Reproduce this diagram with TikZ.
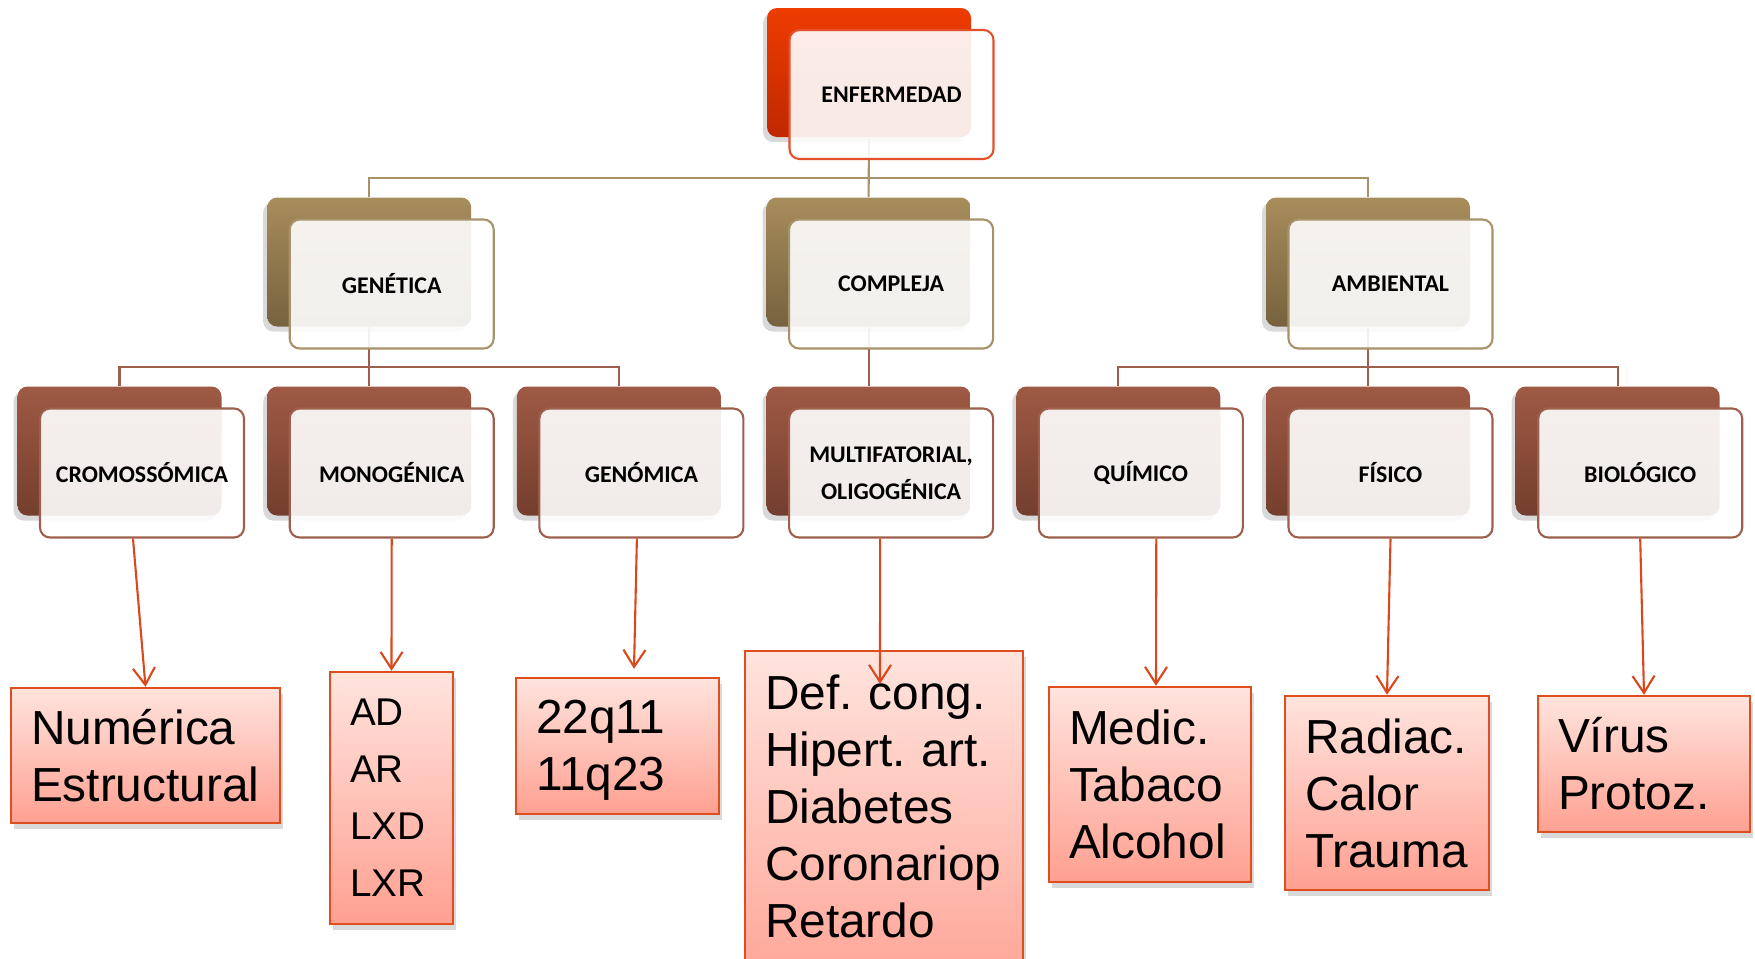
\documentclass[tikz,border=0pt]{standalone}
\usepackage{fontspec}
\usepackage{tikz}
\usetikzlibrary{shadows,backgrounds,arrows.meta}
\newfontfamily\boxfont{Liberation Sans}
\newfontfamily\labelfont{Carlito}
\definecolor{redtop}{RGB}{238,60,0}
\definecolor{redbot}{RGB}{192,40,0}
\definecolor{redline}{RGB}{228,80,42}
\definecolor{tantop}{RGB}{168,141,92}
\definecolor{tanbot}{RGB}{118,98,62}
\definecolor{tanline}{RGB}{168,146,106}
\definecolor{browntop}{RGB}{158,90,68}
\definecolor{brownbot}{RGB}{116,62,46}
\definecolor{brownline}{RGB}{158,96,76}
\definecolor{leaftop}{RGB}{255,228,222}
\definecolor{leafbot}{RGB}{255,160,145}
\definecolor{leafline}{RGB}{222,78,30}
\definecolor{arrowred}{RGB}{218,72,28}

\begin{document}
\begin{tikzpicture}[>={Straight Barb[length=1.7mm,width=2.2mm]},
	back/.style={rounded corners=1mm, minimum width=2.04cm, minimum height=1.29cm, inner sep=0pt,
		drop shadow={shadow xshift=-0.4mm, shadow yshift=-0.5mm, opacity=0.3}},
	front/.style={rounded corners=1mm, minimum width=2.04cm, minimum height=1.29cm, inner sep=0pt,
		fill=white, fill opacity=0.9, text opacity=1, line width=0.6pt, align=center,
		font=\labelfont\bfseries\fontsize{6.8}{10.5}\selectfont},
	leaf/.style={draw=leafline, line width=0.7pt, top color=leaftop, bottom color=leafbot,
		align=left, inner xsep=0.2cm, inner ysep=0pt, font=\boxfont\frenchspacing\fontsize{13.6}{16.2}\selectfont,
		drop shadow={shadow xshift=0.3mm, shadow yshift=-0.6mm, opacity=0.3}},
	tree1/.style={draw=tanline, line width=0.6pt},
	tree2/.style={draw=brownline, line width=0.6pt},
	arr/.style={->, draw=arrowred, line width=0.6pt}]
	\useasboundingbox (0,0) rectangle (17.55,-9.58);
	\coordinate (bar1) at (0,-1.78);
	\coordinate (bar2) at (0,-3.67);

	\node[back, top color=redtop, bottom color=redbot] (e) at (8.69,-0.725) {};
	\node[front, draw=redline] (ef) at ([shift={(0.225,-0.22)}]e.center) {ENFERMEDAD};

	\node[back, top color=tantop, bottom color=tanbot] (g) at (3.692,-2.62) {};
	\node[front, draw=tanline] (gf) at ([shift={(0.225,-0.22)}]g.center) {GENÉTICA};
	\node[back, top color=tantop, bottom color=tanbot] (c) at (8.686,-2.62) {};
	\node[front, draw=tanline] (cf) at ([shift={(0.225,-0.22)}]c.center) {COMPLEJA};
	\node[back, top color=tantop, bottom color=tanbot] (a) at (13.68,-2.62) {};
	\node[front, draw=tanline] (af) at ([shift={(0.225,-0.22)}]a.center) {AMBIENTAL};

	\node[back, top color=browntop, bottom color=brownbot] (cr) at (1.195,-4.51) {};
	\node[front, draw=brownline] (crf) at ([shift={(0.225,-0.22)}]cr.center) {CROMOSSÓMICA};
	\node[back, top color=browntop, bottom color=brownbot] (mo) at (3.692,-4.51) {};
	\node[front, draw=brownline] (mof) at ([shift={(0.225,-0.22)}]mo.center) {MONOGÉNICA};
	\node[back, top color=browntop, bottom color=brownbot] (gn) at (6.189,-4.51) {};
	\node[front, draw=brownline] (gnf) at ([shift={(0.225,-0.22)}]gn.center) {GENÓMICA};
	\node[back, top color=browntop, bottom color=brownbot] (mu) at (8.686,-4.51) {};
	\node[front, draw=brownline] (muf) at ([shift={(0.225,-0.22)}]mu.center) {MULTIFATORIAL,\\OLIGOGÉNICA};
	\node[back, top color=browntop, bottom color=brownbot] (qu) at (11.183,-4.51) {};
	\node[front, draw=brownline] (quf) at ([shift={(0.225,-0.22)}]qu.center) {QUÍMICO};
	\node[back, top color=browntop, bottom color=brownbot] (fi) at (13.68,-4.51) {};
	\node[front, draw=brownline] (fif) at ([shift={(0.225,-0.22)}]fi.center) {FÍSICO};
	\node[back, top color=browntop, bottom color=brownbot] (bi) at (16.177,-4.51) {};
	\node[front, draw=brownline] (bif) at ([shift={(0.225,-0.22)}]bi.center) {BIOLÓGICO};

	\begin{scope}[on background layer]
		\draw[tree1] (e.south) -- (e.south |- bar1) -| (g.north);
		\draw[tree1] (e.south |- bar1) -| (a.north);
		\draw[tree1] (e.south) -- (c.north);
		\draw[tree2] (g.south) -- (g.south |- bar2) -| (cr.north);
		\draw[tree2] (g.south |- bar2) -| (gn.north);
		\draw[tree2] (g.south) -- (mo.north);
		\draw[tree2] (c.south) -- (mu.north);
		\draw[tree2] (a.south) -- (a.south |- bar2) -| (qu.north);
		\draw[tree2] (a.south |- bar2) -| (bi.north);
		\draw[tree2] (a.south) -- (fi.north);
	\end{scope}

	\node[leaf, text width=2.29cm, minimum height=1.35cm] (num) at (1.455,-7.555) {Numérica\\Estructural};
	\node[leaf, text width=0.83cm, minimum height=2.52cm, font=\boxfont\fontsize{11}{16.2}\selectfont] (ad) at (3.915,-7.98) {AD\\AR\\LXD\\LXR};
	\node[leaf, text width=1.63cm, minimum height=1.36cm] (q) at (6.175,-7.46) {\rule{0pt}{0.42cm}22q11\\11q23};
	\node[leaf, text width=2.38cm, minimum height=3.59cm] (mf) at (8.84,-8.305) {Def. cong.\\Hipert. art.\\Diabetes\\Coronariop\\Retardo\rule[-0.48cm]{0pt}{0pt}};
	\node[leaf, text width=1.62cm, minimum height=1.95cm] (med) at (11.50,-7.845) {Medic.\\Tabaco\\Alcohol};
	\node[leaf, text width=1.64cm, minimum height=1.94cm] (rad) at (13.87,-7.93) {Radiac.\\Calor\\Trauma};
	\node[leaf, text width=1.72cm, minimum height=1.36cm] (vir) at (16.44,-7.64) {Vírus\\Protoz.};

	\draw[arr] ([xshift=-0.9mm]crf.south) -- (num.north);
	\draw[arr] (mof.south) -- (ad.north);
	\draw[arr] ([xshift=-0.45mm]gnf.south) -- ([shift={(1.65mm,0.8mm)}]q.north);
	\draw[arr] ([xshift=-1.1mm]muf.south) -- ([shift={(-0.4mm,-3.4mm)}]mf.north);
	\draw[arr] ([xshift=1.55mm]quf.south) -- ([xshift=0.6mm]med.north);
	\draw[arr] (fif.south) -- (rad.north);
	\draw[arr] (bif.south) -- (vir.north);
\end{tikzpicture}
\end{document}
